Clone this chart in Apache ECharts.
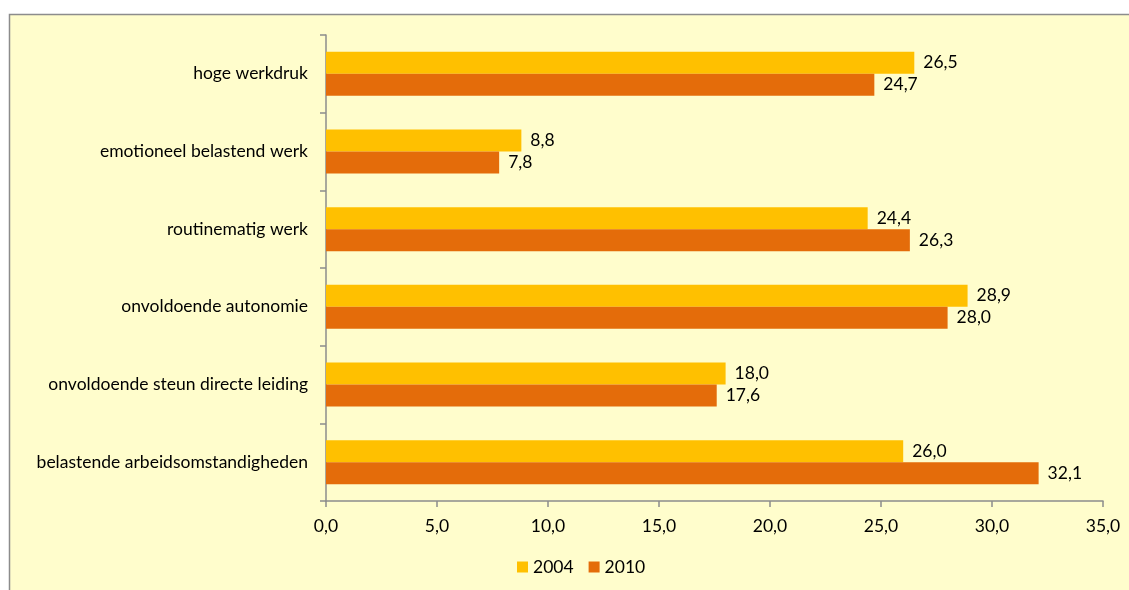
<!DOCTYPE html>
<html>
<head>
<meta charset="utf-8">
<script src="https://cdn.jsdelivr.net/npm/echarts@6/dist/echarts.min.js"></script>
<style>
html,body{margin:0;padding:0;background:#ffffff;}
#chart{width:1129px;height:590px;}
</style>
</head>
<body>
<div id="chart"></div>
<script>
const categories = [
  "hoge werkdruk",
  "emotioneel belastend werk",
  "routinematig werk",
  "onvoldoende autonomie",
  "onvoldoende steun directe leiding",
  "belastende arbeidsomstandigheden"
];
const values2004 = [26.5, 8.8, 24.4, 28.9, 18.0, 26.0];
const values2010 = [24.7, 7.8, 26.3, 28.0, 17.6, 32.1];
const xTicks = [0, 5, 10, 15, 20, 25, 30, 35];

const fontFam = "Lato, 'Open Sans', sans-serif";
const fs = 17.5;
const fmt = v => v.toFixed(1).replace('.', ',');

const chart = echarts.init(document.getElementById('chart'));
chart.setOption({
  backgroundColor: '#ffffff',
  animation: false,
  graphic: [{
    type: 'rect',
    z: -10,
    silent: true,
    shape: { x: 9.5, y: 14.5, width: 1200, height: 700 },
    style: { fill: '#FFFDCC', stroke: '#8c8c8c', lineWidth: 1.5 }
  }],
  grid: { left: 326, right: 26, top: 35, bottom: 89, containLabel: false },
  legend: {
    bottom: 9,
    left: 512,
    itemWidth: 11,
    itemHeight: 11,
    itemGap: 15,
    icon: 'rect',
    textStyle: { fontFamily: fontFam, fontSize: fs, color: '#000' },
    data: ['2004', '2010']
  },
  xAxis: {
    type: 'value',
    min: xTicks[0],
    max: xTicks[xTicks.length - 1],
    interval: 5,
    axisLine: { show: true, lineStyle: { color: '#8c8c8c', width: 1.5 } },
    axisTick: { show: true, length: 6, lineStyle: { color: '#8c8c8c', width: 1.5 } },
    splitLine: { show: false },
    axisLabel: { fontFamily: fontFam, fontSize: fs, color: '#000', margin: 16, formatter: v => fmt(v) }
  },
  yAxis: {
    type: 'category',
    inverse: true,
    data: categories,
    axisLine: { show: true, lineStyle: { color: '#8c8c8c', width: 1.5 } },
    axisTick: { show: true, length: 6, lineStyle: { color: '#8c8c8c', width: 1.5 } },
    axisLabel: { fontFamily: fontFam, fontSize: fs, color: '#000', margin: 18 }
  },
  series: [
    {
      name: '2004', type: 'bar', data: values2004,
      barWidth: 22, barGap: '0%',
      itemStyle: { color: '#FFC000' },
      label: { show: true, position: 'right', distance: 9, fontFamily: fontFam, fontSize: fs, color: '#000', formatter: p => fmt(p.value) }
    },
    {
      name: '2010', type: 'bar', data: values2010,
      barWidth: 22, barGap: '0%',
      itemStyle: { color: '#E46C0A' },
      label: { show: true, position: 'right', distance: 9, fontFamily: fontFam, fontSize: fs, color: '#000', formatter: p => fmt(p.value) }
    }
  ]
});
</script>
</body>
</html>
